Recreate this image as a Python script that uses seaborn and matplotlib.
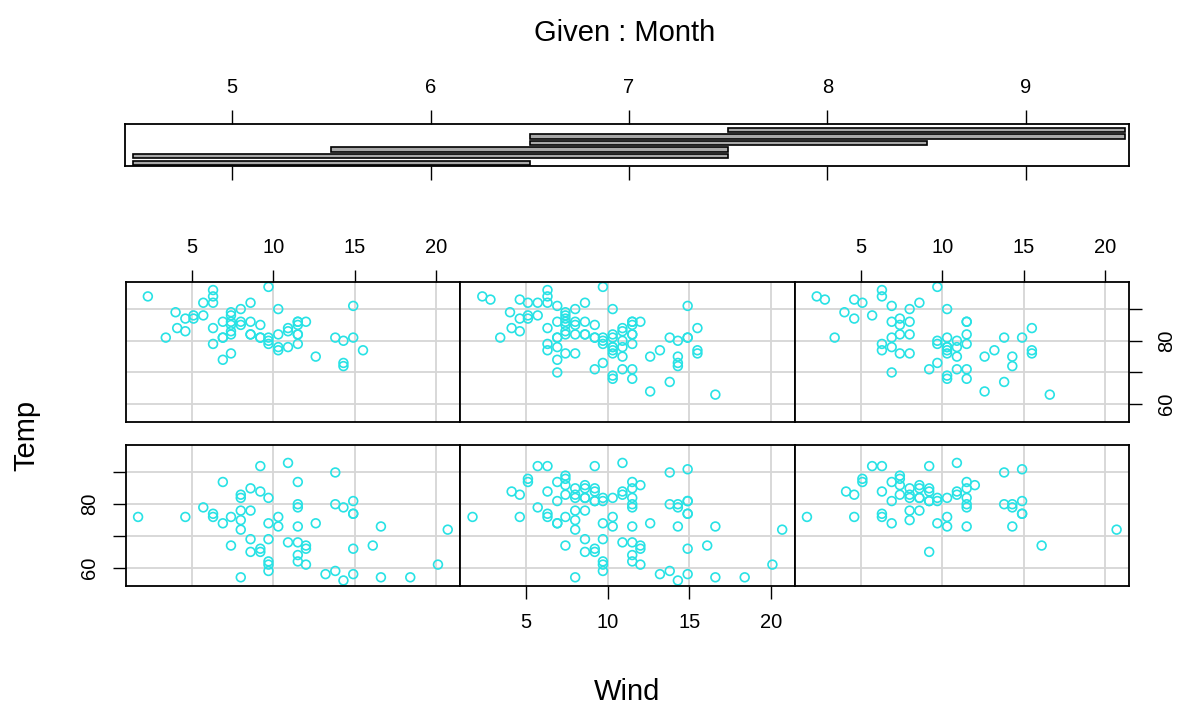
import numpy as np
import pandas as pd
import matplotlib
matplotlib.use("Agg")
import matplotlib.pyplot as plt
from matplotlib.patches import Rectangle
import seaborn as sns

# Daily air quality readings, May–September
months = [5, 6, 7, 8, 9]
days_in_month = [31, 30, 31, 31, 30]

wind_may = [7.4, 8.0, 12.6, 11.5, 14.3, 14.9, 8.6, 13.8, 20.1, 8.6, 6.9, 9.7, 9.2, 10.9, 13.2, 11.5,
            12.0, 18.4, 11.5, 9.7, 9.7, 16.6, 9.7, 12.0, 16.6, 14.9, 8.0, 12.0, 14.9, 5.7, 7.4]
temp_may = [67, 72, 74, 62, 56, 66, 65, 59, 61, 69, 74, 69, 66, 68, 58, 64,
            66, 57, 68, 62, 59, 73, 61, 61, 57, 58, 57, 67, 81, 79, 76]
wind_jun = [8.6, 9.7, 16.1, 9.2, 8.6, 14.3, 9.7, 6.9, 13.8, 11.5, 10.9, 9.2, 8.0, 13.8, 11.5,
            14.9, 20.7, 9.2, 11.5, 10.3, 6.3, 1.7, 4.6, 6.3, 8.0, 8.0, 10.3, 11.5, 14.9, 8.0]
temp_jun = [78, 74, 67, 84, 85, 79, 82, 87, 90, 87, 93, 92, 82, 80, 79,
            77, 72, 65, 73, 76, 77, 76, 76, 76, 75, 78, 73, 80, 77, 83]
wind_jul = [4.1, 9.2, 9.2, 10.9, 4.6, 10.9, 5.1, 6.3, 5.7, 7.4, 8.6, 14.3, 14.9, 14.9, 14.3, 6.9,
            10.3, 6.3, 5.1, 11.5, 6.9, 9.7, 11.5, 8.6, 8.0, 8.6, 12.0, 7.4, 7.4, 7.4, 9.2]
temp_jul = [84, 85, 81, 84, 83, 83, 88, 92, 92, 89, 82, 73, 81, 91, 80, 81,
            82, 84, 87, 85, 74, 81, 82, 86, 85, 82, 86, 88, 86, 83, 81]
wind_aug = [6.9, 13.8, 7.4, 6.9, 7.4, 4.6, 4.0, 10.3, 8.0, 8.6, 11.5, 11.5, 11.5, 9.7, 11.5, 10.3,
            6.3, 7.4, 10.9, 10.3, 15.5, 14.3, 12.6, 9.7, 3.4, 8.0, 5.7, 9.7, 2.3, 6.3, 6.3]
temp_aug = [81, 81, 82, 86, 85, 87, 89, 90, 90, 92, 86, 86, 82, 80, 79, 77,
            79, 76, 78, 78, 77, 72, 75, 79, 81, 86, 88, 97, 94, 96, 94]
wind_sep = [6.9, 5.1, 2.8, 4.6, 7.4, 15.5, 10.9, 10.3, 10.9, 9.7, 14.9, 15.5, 6.3, 10.9, 11.5,
            6.9, 13.8, 10.3, 10.3, 8.0, 12.6, 9.2, 10.3, 10.3, 16.6, 6.9, 13.2, 14.3, 8.0, 11.5]
temp_sep = [91, 92, 93, 93, 87, 84, 80, 78, 75, 73, 81, 76, 77, 71, 71,
            78, 67, 76, 68, 82, 64, 71, 81, 69, 63, 70, 77, 75, 76, 68]

# Overlapping conditioning intervals on Month
given_lo = [4.5, 4.5, 5.5, 6.5, 6.5, 7.5]
given_hi = [6.5, 7.5, 7.5, 8.5, 9.5, 9.5]

month_ticks = [5, 6, 7, 8, 9]
wind_ticks = [5, 10, 15, 20]
temp_ticks = [60, 70, 80, 90]
temp_labels = ["60", "", "80", ""]

df = pd.DataFrame({
    "Month": np.repeat(months, days_in_month),
    "Wind": wind_may + wind_jun + wind_jul + wind_aug + wind_sep,
    "Temp": temp_may + temp_jun + temp_jul + temp_aug + temp_sep,
})

sns.set_theme(style="white")
plt.rcParams["font.family"] = ["Liberation Sans", "DejaVu Sans"]
plt.rcParams["text.color"] = "black"
plt.rcParams["xtick.color"] = "black"
plt.rcParams["ytick.color"] = "black"
plt.rcParams["xtick.labelcolor"] = "black"
plt.rcParams["ytick.labelcolor"] = "black"

W, H = 1180, 707
fig = plt.figure(figsize=(W / 100, H / 100), dpi=100)


def px_rect(x0, y0, x1, y1):
    return [x0 / W, 1 - y1 / H, (x1 - x0) / W, (y1 - y0) / H]


POINT = "#28E2E5"
GRID = "#D6D6D6"
TICK_FS = 14.5
SPINE_LW = 1.3


def pad_range(lo, hi, frac=0.04):
    d = (hi - lo) * frac
    return lo - d, hi + d


xlim = pad_range(df["Wind"].min(), df["Wind"].max())
ylim = pad_range(df["Temp"].min(), df["Temp"].max())

# ---- conditioning panel ----
gax = fig.add_axes(px_rect(125, 123.6, 1129, 166.4))
gax.set_xlim(4.46, 9.52)
gax.set_ylim(0.47, 6.92)
for i, (lo, hi) in enumerate(zip(given_lo, given_hi)):
    gax.add_patch(Rectangle((lo, i + 1 - 0.33), hi - lo, 0.66,
                            facecolor="#A8A8A8", edgecolor="black", linewidth=1.2))
gax.set_xticks(month_ticks)
gax.set_xticklabels([str(m) for m in month_ticks])
gax.set_yticks([])
gax.tick_params(axis="x", top=True, bottom=True, labeltop=True, labelbottom=False,
                direction="out", length=9.8, width=1.0, color="black",
                labelsize=TICK_FS, pad=9)
for s in gax.spines.values():
    s.set_color("black")
    s.set_linewidth(SPINE_LW)

# ---- dependence panels ----
col_edges = np.linspace(125.7, 1129, 4)
row_spans = {0: (445, 585.7), 1: (281.7, 422)}

for i, (lo, hi) in enumerate(zip(given_lo, given_hi)):
    row, col = divmod(i, 3)
    y0, y1 = row_spans[row]
    ax = fig.add_axes(px_rect(col_edges[col], y0, col_edges[col + 1], y1))
    for xv in wind_ticks:
        ax.axvline(xv, color=GRID, linewidth=1.3, zorder=0)
    for yv in temp_ticks:
        ax.axhline(yv, color=GRID, linewidth=1.3, zorder=0)
    sub = df[(df["Month"] >= lo) & (df["Month"] <= hi)]
    sns.scatterplot(data=sub, x="Wind", y="Temp", ax=ax, s=40, marker="o",
                    facecolor="none", edgecolor=POINT, linewidth=1.2, zorder=2)
    ax.set_xlim(*xlim)
    ax.set_ylim(*ylim)
    ax.set_xlabel("")
    ax.set_ylabel("")
    ax.set_xticks(wind_ticks)
    ax.set_xticklabels([str(t) for t in wind_ticks])
    ax.set_yticks(temp_ticks)
    ax.set_yticklabels(temp_labels, rotation=90, va="center")
    for s in ax.spines.values():
        s.set_color("black")
        s.set_linewidth(SPINE_LW)
        s.set_zorder(3)

    show_top = row == 1 and col in (0, 2)
    show_bottom = row == 0 and col == 1
    ax.tick_params(axis="x", top=show_top, bottom=show_bottom,
                   labeltop=show_top, labelbottom=show_bottom,
                   direction="out", length=9, width=1.0, color="black",
                   labelsize=TICK_FS, pad=11 if show_bottom else 8.5)
    show_left = row == 0 and col == 0
    show_right = row == 1 and col == 2
    ax.tick_params(axis="y", left=show_left, right=show_right,
                   labelleft=show_left, labelright=show_right,
                   direction="out", length=9.5, width=1.0, color="black",
                   labelsize=TICK_FS, pad=9.5 if show_left else 11)

fig.text(625 / W, 1 - 33 / H, "Given : Month", ha="center", va="center", fontsize=21)
fig.text(627 / W, 1 - 692 / H, "Wind", ha="center", va="center", fontsize=21)
fig.text(26 / W, 1 - 435 / H, "Temp", ha="center", va="center", rotation=90, fontsize=21)

fig.savefig("out.png", dpi=100, facecolor="white")
